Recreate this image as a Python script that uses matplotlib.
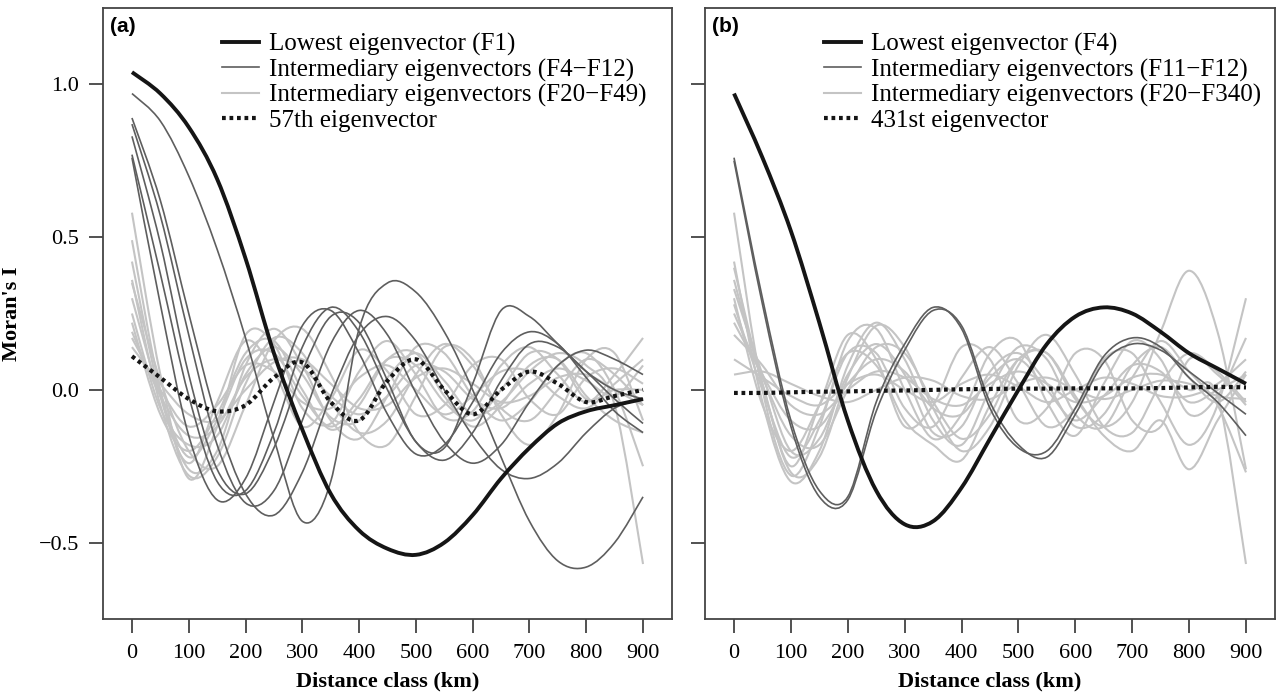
import numpy as np
import matplotlib.pyplot as plt
from matplotlib.path import Path
from matplotlib.patches import PathPatch
from matplotlib.lines import Line2D
from matplotlib.ticker import FuncFormatter

plt.rcParams['font.family'] = ['Liberation Serif', 'DejaVu Serif']

dist = [0, 50, 100, 150, 200, 250, 300, 350, 400, 450,
        500, 550, 600, 650, 700, 750, 800, 850, 900]

# ---------------- panel (a) ----------------
a_lowest = [1.04, 0.97, 0.86, 0.69, 0.43, 0.12, -0.13, -0.34, -0.46, -0.52,
            -0.54, -0.50, -0.41, -0.29, -0.19, -0.11, -0.07, -0.05, -0.03]
a_57th = [0.11, 0.04, -0.03, -0.07, -0.05, 0.04, 0.09, -0.04, -0.10, 0.03,
          0.10, 0.00, -0.08, 0.00, 0.06, 0.02, -0.04, -0.02, 0.00]
a_mid = [
    [0.97, 0.88, 0.70, 0.46, 0.17, -0.16, -0.43, -0.30, 0.20, 0.35,
     0.32, 0.19, 0.00, -0.22, -0.43, -0.56, -0.58, -0.50, -0.35],
    [0.89, 0.62, 0.25, -0.10, -0.34, -0.41, -0.27, -0.02, 0.18, 0.24,
     0.16, 0.00, -0.15, -0.26, -0.29, -0.24, -0.14, -0.06, -0.03],
    [0.87, 0.57, 0.18, -0.18, -0.37, -0.33, -0.10, 0.15, 0.26, 0.18,
     -0.01, -0.17, -0.24, -0.18, -0.04, 0.08, 0.13, 0.10, 0.05],
    [0.83, 0.48, 0.05, -0.26, -0.34, -0.19, 0.06, 0.24, 0.22, 0.03,
     -0.17, -0.19, 0.02, 0.26, 0.24, 0.15, 0.06, 0.00, -0.03],
    [0.77, 0.38, -0.02, -0.30, -0.33, -0.14, 0.14, 0.27, 0.19, 0.00,
     -0.17, -0.23, -0.14, 0.03, 0.15, 0.14, 0.06, -0.03, -0.11],
    [0.76, 0.28, -0.15, -0.36, -0.29, -0.04, 0.21, 0.26, 0.12, -0.08,
     -0.21, -0.18, -0.04, 0.12, 0.19, 0.15, 0.04, -0.07, -0.14],
]
a_high = [
    [0.58, 0.05, -0.29, -0.12, 0.18, 0.15, -0.06, -0.11, 0.06, 0.16,
     0.05, -0.09, -0.07, 0.08, 0.14, 0.05, -0.04, 0.05, 0.17],
    [0.49, 0.00, -0.26, -0.20, 0.08, 0.20, 0.08, -0.10, -0.16, -0.02,
     0.14, 0.12, -0.02, -0.10, -0.04, 0.08, 0.12, 0.00, -0.25],
    [0.42, -0.02, -0.24, -0.04, 0.16, 0.06, -0.12, -0.03, 0.13, 0.06,
     -0.08, -0.05, 0.08, 0.10, -0.03, -0.08, 0.04, 0.07, 0.02],
    [0.36, -0.05, -0.28, -0.22, 0.02, 0.17, 0.12, -0.04, -0.14, -0.10,
     0.05, 0.15, 0.08, -0.06, -0.10, 0.00, 0.10, 0.05, -0.05],
    [0.30, -0.02, -0.22, -0.10, 0.10, 0.12, -0.02, -0.12, -0.03, 0.10,
     0.08, -0.04, -0.10, 0.00, 0.12, 0.10, -0.03, 0.00, 0.00],
    [0.25, -0.06, -0.18, -0.15, 0.05, 0.14, 0.05, -0.09, -0.10, 0.04,
     0.12, 0.03, -0.08, -0.04, 0.06, 0.12, 0.08, -0.05, -0.57],
    [0.22, -0.08, -0.20, -0.08, 0.12, 0.16, 0.00, -0.13, -0.05, 0.10,
     0.12, -0.02, -0.12, -0.05, 0.08, 0.10, -0.02, -0.10, -0.14],
    [0.19, -0.02, -0.15, -0.12, 0.04, 0.10, 0.07, -0.02, -0.08, -0.02,
     0.08, 0.06, -0.03, -0.06, 0.02, 0.07, 0.03, -0.02, 0.08],
    [0.17, 0.00, -0.12, -0.05, 0.08, 0.06, -0.04, -0.06, 0.04, 0.08,
     0.00, -0.08, -0.02, 0.06, 0.06, -0.02, -0.06, 0.02, 0.10],
    [0.14, 0.02, -0.08, -0.10, 0.00, 0.09, 0.10, 0.02, -0.06, -0.05,
     0.04, 0.07, 0.02, -0.04, -0.02, 0.04, 0.05, 0.00, -0.05],
    [0.35, 0.03, -0.20, -0.25, -0.05, 0.16, 0.20, 0.05, -0.14, -0.18,
     -0.02, 0.14, 0.10, -0.08, -0.18, -0.08, 0.10, 0.12, -0.10],
]

# ---------------- panel (b) ----------------
b_lowest = [0.97, 0.76, 0.52, 0.22, -0.10, -0.33, -0.44, -0.43, -0.32, -0.16,
            0.00, 0.15, 0.24, 0.27, 0.25, 0.19, 0.12, 0.07, 0.02]
b_431st = [-0.01, -0.01, -0.008, -0.006, -0.005, -0.003, -0.002, 0.0, 0.002, 0.003,
           0.004, 0.004, 0.005, 0.005, 0.005, 0.006, 0.008, 0.01, 0.008]
b_mid = [
    [0.76, 0.30, -0.10, -0.33, -0.35, -0.04, 0.15, 0.27, 0.20, -0.06,
     -0.19, -0.20, -0.06, 0.11, 0.17, 0.14, 0.04, -0.04, -0.15],
    [0.75, 0.28, -0.12, -0.35, -0.36, -0.07, 0.13, 0.26, 0.21, -0.04,
     -0.18, -0.22, -0.08, 0.09, 0.15, 0.13, 0.06, -0.01, -0.08],
]
b_high = [
    [0.58, 0.00, -0.28, -0.12, 0.16, 0.20, 0.00, -0.16, -0.08, 0.12,
     0.16, -0.04, -0.15, 0.02, 0.16, 0.10, -0.08, -0.02, 0.17],
    [0.42, -0.04, -0.30, -0.20, 0.08, 0.22, 0.10, -0.10, -0.18, 0.00,
     0.14, 0.10, -0.08, -0.12, 0.04, 0.16, 0.06, -0.05, -0.27],
    [0.36, 0.02, -0.25, -0.05, 0.18, 0.10, -0.12, -0.05, 0.14, 0.10,
     -0.10, -0.06, 0.12, 0.10, -0.10, -0.12, 0.10, 0.05, -0.05],
    [0.33, 0.05, -0.20, -0.16, 0.05, 0.15, 0.05, -0.14, -0.12, 0.06,
     0.12, 0.02, -0.12, -0.08, 0.08, 0.14, 0.04, -0.04, 0.06],
    [0.28, 0.00, -0.22, -0.10, 0.12, 0.12, -0.06, -0.12, 0.04, 0.14,
     0.02, -0.12, -0.06, 0.10, 0.12, -0.04, -0.18, -0.05, 0.30],
    [0.25, 0.04, -0.15, -0.18, 0.00, 0.14, 0.12, -0.04, -0.16, -0.08,
     0.10, 0.12, -0.03, -0.12, -0.04, 0.19, 0.39, 0.19, -0.26],
    [0.22, 0.05, -0.10, -0.12, 0.02, 0.10, 0.06, -0.06, -0.08, 0.04,
     0.10, 0.00, -0.10, -0.02, 0.08, 0.06, -0.04, 0.00, 0.05],
    [0.18, 0.08, -0.05, -0.08, 0.00, 0.06, 0.04, -0.03, -0.05, 0.02,
     0.06, 0.02, -0.04, -0.02, 0.04, 0.05, 0.00, -0.02, -0.57],
    [0.10, 0.04, -0.02, -0.05, 0.02, 0.05, 0.00, -0.04, 0.02, 0.05,
     0.01, -0.04, 0.00, 0.04, 0.02, -0.02, -0.02, 0.02, 0.10],
    [0.05, 0.06, 0.02, -0.02, -0.04, 0.00, 0.04, 0.03, -0.02, -0.03,
     0.02, 0.04, 0.00, -0.03, 0.00, 0.03, 0.02, -0.02, -0.03],
    [0.40, 0.02, -0.27, -0.22, 0.04, 0.21, 0.14, -0.06, -0.20, -0.12,
     0.08, 0.18, 0.05, -0.12, -0.14, 0.02, 0.12, 0.06, -0.04],
    [0.30, -0.05, -0.20, -0.05, 0.12, 0.08, -0.10, -0.18, -0.23, -0.05,
     0.10, 0.12, -0.02, -0.15, -0.20, -0.10, -0.26, -0.10, 0.05],
]

legend_a = ['Lowest eigenvector (F1)', 'Intermediary eigenvectors (F4\u2212F12)',
            'Intermediary eigenvectors (F20\u2212F49)', '57th eigenvector']
legend_b = ['Lowest eigenvector (F4)', 'Intermediary eigenvectors (F11\u2212F12)',
            'Intermediary eigenvectors (F20\u2212F340)', '431st eigenvector']

BLACK = '#151515'
DARK = '#5e5e5e'
LIGHT = '#c4c4c4'


def smooth_path(xs, ys):
    # cubic bezier through the read points (catmull-rom tangents)
    pts = np.column_stack([xs, ys]).astype(float)
    ext = np.vstack([pts[0], pts, pts[-1]])
    verts = [pts[0]]
    codes = [Path.MOVETO]
    for i in range(len(pts) - 1):
        p0, p1, p2, p3 = ext[i], ext[i + 1], ext[i + 2], ext[i + 3]
        verts += [p1 + (p2 - p0) / 6, p2 - (p3 - p1) / 6, p2]
        codes += [Path.CURVE4] * 3
    return Path(verts, codes)


def draw(ax, ys, color, lw, z, ls='-'):
    patch = PathPatch(smooth_path(dist, ys), facecolor='none', edgecolor=color,
                      lw=lw, linestyle=ls, zorder=z, capstyle='butt')
    ax.add_patch(patch)


def panel(ax, lowest, dotted, mid, high, labels, tag, ylabels):
    for ys in high:
        draw(ax, ys, LIGHT, 1.5, 2)
    for ys in mid:
        draw(ax, ys, DARK, 1.2, 3)
    draw(ax, dotted, BLACK, 3.0, 4, ls=(0, (0.9, 0.9)))
    draw(ax, lowest, BLACK, 2.8, 5)

    ax.set_xlim(-51, 951)
    ax.set_ylim(-0.75, 1.25)
    ax.set_xticks(range(0, 901, 100))
    ax.set_yticks([-0.5, 0.0, 0.5, 1.0])
    ax.yaxis.set_major_formatter(FuncFormatter(lambda v, p: f'{v:.1f}'.replace('-', '\u2212')))
    ax.tick_params(direction='out', length=10, width=1.2, color='#333333',
                   labelsize=16, pad=7)
    ax.tick_params(axis='x', pad=8)
    if not ylabels:
        ax.tick_params(axis='y', labelleft=False)
    for s in ax.spines.values():
        s.set_color('#444444')
        s.set_linewidth(1.3)
    ax.set_xlabel('Distance class (km)', fontsize=16, fontweight='bold', labelpad=6)

    handles = [Line2D([], [], color=BLACK, lw=2.8),
               Line2D([], [], color=DARK, lw=1.2),
               Line2D([], [], color=LIGHT, lw=1.5),
               Line2D([], [], color=BLACK, lw=3.0, ls=(0, (0.9, 0.9)))]
    ax.legend(handles, labels, loc='upper left', bbox_to_anchor=(0.178, 0.988),
              frameon=False, fontsize=18, handlelength=1.5, handletextpad=0.4,
              labelspacing=0.1, borderpad=0.2)
    ax.text(0.012, 0.986, tag, transform=ax.transAxes, ha='left', va='top',
            fontsize=15, fontweight='bold', family='Liberation Sans')


fig = plt.figure(figsize=(12.82, 7.0), dpi=100)
ax_a = fig.add_axes([103 / 1282, 81 / 700, 569 / 1282, 611 / 700])
ax_b = fig.add_axes([705 / 1282, 81 / 700, 570 / 1282, 611 / 700])

panel(ax_a, a_lowest, a_57th, a_mid, a_high, legend_a, '(a)', True)
panel(ax_b, b_lowest, b_431st, b_mid, b_high, legend_b, '(b)', False)
ax_a.set_ylabel("Moran's I", fontsize=16, fontweight='bold', labelpad=12)

fig.savefig('out.png', dpi=100)
